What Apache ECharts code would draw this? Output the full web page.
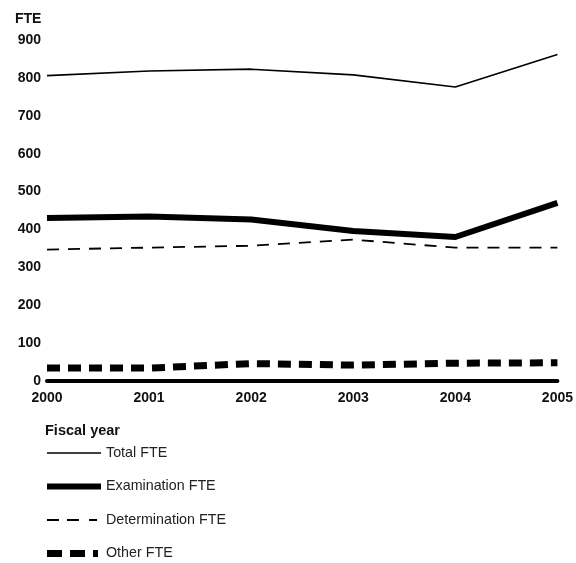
<!DOCTYPE html>
<html>
<head>
<meta charset="utf-8">
<script src="https://cdn.jsdelivr.net/npm/echarts@6/dist/echarts.min.js"></script>
<style>html,body{margin:0;padding:0;background:#fff}#c{width:576px;height:563px}</style>
</head>
<body>
<div id="c"></div>
<script>
const years = ['2000','2001','2002','2003','2004','2005'];
const totalFTE = [806, 818, 823, 808, 776, 862];
const examinationFTE = [430, 434, 426, 396, 380, 470];
const determinationFTE = [347, 352, 357, 373, 352, 352];
const otherFTE = [34, 34, 46, 42, 47, 48];
const seriesNames = ['Total FTE','Examination FTE','Determination FTE','Other FTE'];

const iconBox = 'M0,0M54,14';
const icons = [
  'path://' + iconBox + 'M0,6.2H54V7.8H0Z',
  'path://' + iconBox + 'M0,4H54V10H0Z',
  'path://' + iconBox + 'M0,6.1H12V7.9H0ZM20,6.1H32V7.9H20ZM42,6.1H50V7.9H42Z',
  'path://' + iconBox + 'M0,3.5H15V10.5H0ZM23,3.5H38V10.5H23ZM46,3.5H51V10.5H46Z'
];

const chart = echarts.init(document.getElementById('c'), null, {renderer:'canvas'});
const font = 'Liberation Sans, Arial, sans-serif';
chart.setOption({
  animation: false,
  backgroundColor: '#fff',
  title: [
    {text:'FTE', left:10, top:7, textStyle:{fontFamily:font, fontSize:14, fontWeight:'bold', color:'#111'}},
    {text:'Fiscal year', left:40, top:418, textStyle:{fontFamily:font, fontSize:14.5, fontWeight:'bold', color:'#111'}}
  ],
  grid: {left:47, right:18, top:40, bottom:182, containLabel:false},
  legend: {
    orient:'vertical', left:47, top:446, height:117, padding:0, itemWidth:54, itemHeight:14, itemGap:19.5,
    textStyle:{fontFamily:font, fontSize:14.3, color:'#222'},
    itemStyle:{color:'#000', borderWidth:0},
    data: seriesNames.map((n,i)=>({name:n, icon:icons[i], itemStyle:{color:'#000', borderWidth:0}}))
  },
  xAxis: {
    type:'category', boundaryGap:false, data:years,
    axisLine:{show:true, lineStyle:{color:'#000', width:4}},
    axisTick:{show:false},
    axisLabel:{fontFamily:font, fontSize:14, fontWeight:'bold', color:'#111', margin:10}
  },
  yAxis: {
    type:'value', min:0, max:900, interval:100,
    axisLine:{show:false}, axisTick:{show:false}, splitLine:{show:false},
    axisLabel:{fontFamily:font, fontSize:14, fontWeight:'bold', color:'#111', margin:6}
  },
  series: [
    {name:seriesNames[0], type:'line', data:totalFTE, symbol:'none', lineStyle:{color:'#000', width:1.6}, itemStyle:{color:'#000'}},
    {name:seriesNames[1], type:'line', data:examinationFTE, symbol:'none', lineStyle:{color:'#000', width:6}, itemStyle:{color:'#000'}},
    {name:seriesNames[2], type:'line', data:determinationFTE, symbol:'none', lineStyle:{color:'#000', width:1.8, type:[12,9]}, itemStyle:{color:'#000'}},
    {name:seriesNames[3], type:'line', data:otherFTE, symbol:'none', lineStyle:{color:'#000', width:7, type:[13,8]}, itemStyle:{color:'#000'}}
  ]
});
</script>
</body>
</html>
